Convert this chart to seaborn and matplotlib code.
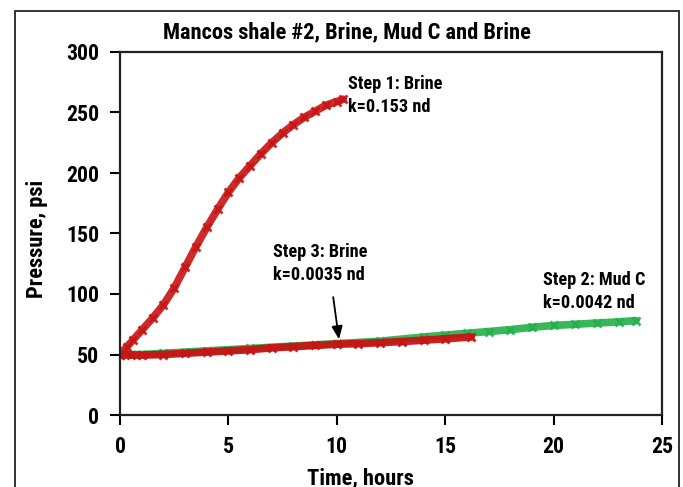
import matplotlib
matplotlib.use("Agg")
import matplotlib.pyplot as plt
import seaborn as sns
import pandas as pd
from matplotlib.patches import Rectangle
from matplotlib import font_manager

# ---- data ----
step1_t = [0, 0.3, 0.6, 1.0, 1.5, 2.0, 2.5, 3.0, 3.5, 4.0, 4.5, 5.0, 5.5, 6.0, 6.5, 7.0, 7.5, 8.0, 8.5, 9.0, 9.5, 10.0, 10.3]
step1_p = [50, 56, 62, 70, 80, 91, 105, 122, 139, 155, 170, 184, 196, 206, 216, 225, 233, 240, 246, 251, 256, 259, 261]

step2_t = [0, 1, 2, 4, 6, 8, 10, 12, 14, 15, 16, 17, 18, 19, 20, 21, 22, 23, 23.8]
step2_p = [50, 50, 51, 53, 55, 57, 59, 61, 64.5, 66, 67.5, 69, 70.5, 72.5, 74, 75, 76, 77, 78]

step3_t = [0, 0.5, 1, 2, 3, 4, 5, 6, 7, 8, 9, 10, 11, 12, 13, 14, 15, 16.2]
step3_p = [50, 49.5, 49.5, 50, 51, 52, 53, 54, 55.5, 56.5, 57.5, 58.5, 59, 59.8, 60.7, 61.8, 63, 64.5]

x_ticks = [0, 5, 10, 15, 20, 25]
y_ticks = [0, 50, 100, 150, 200, 250, 300]

title = "Mancos shale #2, Brine, Mud C and Brine"
xlabel = "Time, hours"
ylabel = "Pressure, psi"

RED = "#c81414"
GREEN = "#23b04a"

sns.set_theme(style="ticks")
avail = {f.name for f in font_manager.fontManager.ttflist}
narrow = None
for cand in ["Liberation Sans Narrow", "Roboto Condensed", "DejaVu Sans Condensed",
             "Open Sans Condensed", "Noto Sans Condensed"]:
    if cand in avail:
        narrow = cand
        break
if narrow is None:
    narrow = "Liberation Sans"
    sc = 0.92
else:
    sc = 1.08
plt.rcParams["font.family"] = [narrow, "DejaVu Sans"]
plt.rcParams["font.weight"] = "bold"
for k in ["text.color", "axes.labelcolor", "xtick.color", "ytick.color"]:
    plt.rcParams[k] = "black"

fig = plt.figure(figsize=(6.83, 4.87), dpi=100)
ax = fig.add_axes([120/683, 72/487, 542/683, 363/487])

df2 = pd.DataFrame({"t": step2_t, "p": step2_p})
df3 = pd.DataFrame({"t": step3_t, "p": step3_p})
df1 = pd.DataFrame({"t": step1_t, "p": step1_p})

sns.lineplot(data=df2, x="t", y="p", ax=ax, color=GREEN, lw=5.5, marker="x",
             markersize=6, mew=2, mec=GREEN, alpha=0.9, sort=False)
sns.lineplot(data=df3, x="t", y="p", ax=ax, color=RED, lw=5.5, marker="x",
             markersize=6, mew=2, mec=RED, alpha=0.95, sort=False)
sns.lineplot(data=df1, x="t", y="p", ax=ax, color=RED, lw=5.5, marker="x",
             markersize=6, mew=2, mec=RED, alpha=0.9, sort=False)

ax.set_xlim(0, 25)
ax.set_ylim(0, 300)
ax.set_xticks(x_ticks)
ax.set_yticks(y_ticks)
ax.tick_params(axis="both", direction="out", length=7, width=1.5, color="black",
               labelsize=14.5 * sc, pad=8)
for lab in ax.get_xticklabels() + ax.get_yticklabels():
    lab.set_fontweight("bold")
for s in ax.spines.values():
    s.set_visible(True)
    s.set_color("#222222")
    s.set_linewidth(1.6)

ax.set_xlabel(xlabel, fontsize=15 * sc, fontweight="bold")
ax.set_ylabel(ylabel, fontsize=15 * sc, fontweight="bold")
ax.xaxis.set_label_coords(0.443, -0.145)
ax.yaxis.set_label_coords(-0.132, 0.485)

fig.text(347/683, 1 - 32/487, title, ha="center", va="center",
         fontsize=15 * sc, fontweight="bold")

fs = 12.2 * sc
ax.text(10.5, 264, "Step 1: Brine\nk=0.153 nd", fontsize=fs, fontweight="bold",
        va="center", ha="left", linespacing=1.35)
ax.text(19.5, 102, "Step 2: Mud C\nk=0.0042 nd", fontsize=fs, fontweight="bold",
        va="center", ha="left", linespacing=1.35)
ax.annotate("Step 3: Brine\nk=0.0035 nd", xy=(10.1, 62.5), xytext=(7.05, 125),
            fontsize=fs, fontweight="bold", va="center", ha="left", linespacing=1.35,
            arrowprops=dict(arrowstyle="-|>,head_length=0.6,head_width=0.25",
                            color="black", lw=1.3,
                            shrinkA=7, shrinkB=0, relpos=(0.62, 0.0)))

ax.set_facecolor("white")
fig.patch.set_facecolor("white")
fig.patches.append(Rectangle((15/683, -0.05), 664/683, 1 - 11/487 + 0.05,
                             transform=fig.transFigure, fill=False,
                             edgecolor="#333333", lw=1.4, zorder=0))

fig.savefig("out.png", dpi=100)
